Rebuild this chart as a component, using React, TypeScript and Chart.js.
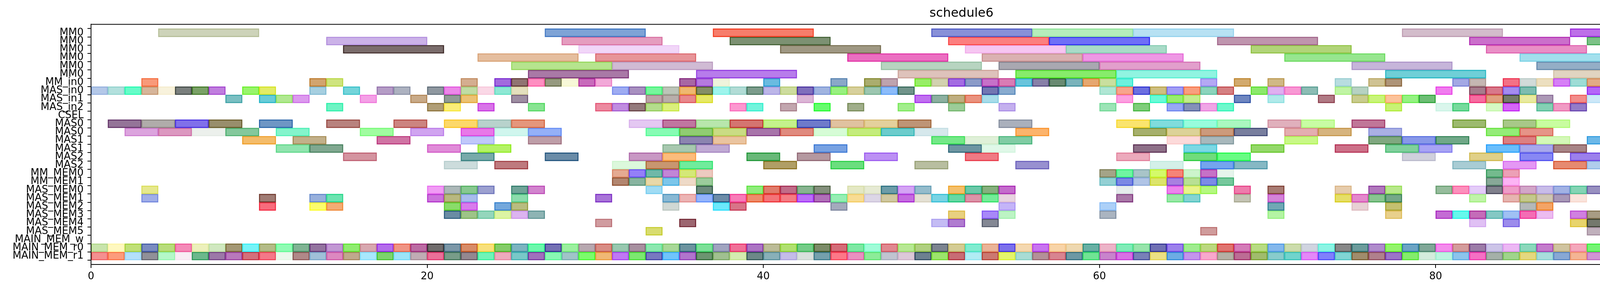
import React, { useEffect, useRef } from "react";
import { Chart, registerables } from "chart.js";

Chart.register(...registerables);

const TITLE = "schedule6";
const ROW_LABELS = [
  "MM0", "MM0", "MM0", "MM0", "MM0", "MM0", "MM_in0", "MAS_in0", "MAS_in1", "MAS_in2",
  "CSEL", "MAS0", "MAS0", "MAS1", "MAS1", "MAS2", "MAS2", "MM_MEM0", "MM_MEM1", "MAS_MEM0",
  "MAS_MEM1", "MAS_MEM2", "MAS_MEM3", "MAS_MEM4", "MAS_MEM5", "MAIN_MEM_w", "MAIN_MEM_r0", "MAIN_MEM_r1",
];
// task duration of each row
const ROW_DURATION = [6, 6, 6, 6, 6, 6, 1, 1, 1, 1, 1, 2, 2, 2, 2, 2, 2, 1, 1, 1, 1, 1, 1, 1, 1, 1, 1, 1];
const X_TICKS = [0, 20, 40, 60, 80, 100];
const X_MAX = 109;

// task start times per row
const MM0_0 = [4, 27, 37, 50, 56, 62, 78, 88, 95];
const MM0_1 = [14, 28, 38, 51, 57, 67, 82, 89, 98];
const MM0_2 = [15, 29, 41, 52, 58, 69, 83, 90, 103];
const MM0_3 = [23, 30, 45, 53, 59, 71, 85, 91];
const MM0_4 = [25, 31, 47, 54, 60, 75, 86, 92];
const MM0_5 = [26, 36, 48, 55, 61, 77, 87, 93];
const MM_IN0 = [3, 13, 14, 22, 24, 25, 26, 27, 28, 29, 30, 35, 36, 37, 40, 44, 46, 47, 49, 50, 51, 52, 53, 54, 55, 56, 57, 58, 59, 60, 61, 66, 68, 70, 74, 76, 77, 81, 82, 84, 85, 86, 87, 88, 89, 90, 91, 92, 94, 97, 102];
const MAS_IN0 = [0, 1, 2, 3, 4, 5, 6, 7, 9, 10, 13, 15, 17, 18, 20, 21, 22, 23, 24, 25, 31, 32, 33, 34, 35, 36, 37, 38, 39, 40, 41, 42, 43, 44, 45, 46, 47, 48, 53, 54, 60, 61, 62, 63, 64, 65, 66, 67, 69, 70, 71, 72, 74, 75, 80, 82, 83, 84, 85, 89, 90, 91, 93, 94, 95, 96, 97, 98, 100, 101];
const MAS_IN1 = [8, 10, 11, 12, 16, 19, 21, 22, 25, 33, 34, 35, 36, 42, 49, 50, 51, 52, 53, 61, 63, 64, 65, 68, 70, 73, 75, 76, 77, 78, 79, 82, 83, 84, 85, 86, 88, 89, 90, 93, 94, 95, 96, 98];
const MAS_IN2 = [14, 20, 21, 23, 26, 30, 31, 32, 33, 34, 38, 39, 41, 43, 45, 48, 51, 54, 60, 62, 64, 65, 66, 67, 77, 80, 81, 83, 84, 86, 87, 88, 90, 92, 95, 96, 97, 98, 99];
const CSEL: number[] = [];
const MAS0_A = [1, 3, 5, 7, 10, 14, 18, 21, 23, 25, 32, 34, 36, 38, 40, 42, 44, 46, 48, 54, 61, 63, 65, 67, 70, 72, 75, 81, 84, 86, 91, 94, 96, 98, 101];
const MAS0_B = [2, 4, 6, 8, 11, 16, 19, 22, 24, 26, 33, 35, 37, 39, 41, 43, 45, 47, 49, 55, 62, 64, 66, 68, 71, 73, 76, 83, 85, 90, 92, 95, 97, 99, 102];
const MAS1_A = [9, 12, 17, 22, 26, 35, 37, 50, 52, 54, 64, 66, 71, 76, 78, 80, 84, 86, 89, 91, 95, 97];
const MAS1_B = [11, 13, 20, 23, 34, 36, 43, 51, 53, 62, 65, 69, 74, 77, 79, 83, 85, 87, 90, 94, 96, 99];
const MAS2_A = [15, 22, 27, 32, 34, 39, 42, 46, 52, 61, 65, 67, 78, 82, 85, 88, 91, 96, 98, 100];
const MAS2_B = [21, 24, 31, 33, 35, 40, 44, 49, 55, 63, 66, 68, 81, 84, 87, 89, 93, 97, 99];
const MM_MEM0 = [31, 32, 33, 34, 35, 36, 60, 61, 62, 63, 64, 65, 66, 67, 83, 84, 95, 96];
const MM_MEM1 = [31, 32, 33, 34, 35, 36, 60, 61, 62, 63, 64, 65, 66, 67, 83, 84, 95, 96];
const MAS_MEM0 = [3, 20, 21, 22, 23, 25, 26, 33, 36, 39, 40, 41, 42, 43, 45, 46, 47, 48, 49, 51, 52, 53, 54, 61, 64, 65, 66, 68, 70, 74, 76, 77, 80, 81, 82, 83, 84, 85, 86, 87, 88, 89, 90, 95, 96, 97];
const MAS_MEM1 = [3, 10, 13, 14, 20, 21, 22, 25, 30, 34, 35, 36, 37, 38, 39, 40, 41, 42, 43, 44, 45, 46, 47, 48, 49, 50, 51, 52, 53, 54, 61, 64, 65, 68, 70, 74, 75, 76, 77, 82, 84, 85, 86, 87, 88, 90, 93, 94, 95, 96, 97, 98, 99, 100, 101, 102];
const MAS_MEM2 = [10, 13, 14, 21, 22, 24, 25, 34, 37, 38, 44, 54, 60, 70, 75, 77, 85, 86, 90, 92, 93, 94, 98, 102];
const MAS_MEM3 = [21, 22, 23, 24, 25, 26, 51, 53, 54, 60, 70, 77, 80, 81, 82, 83, 84, 85, 86, 88, 89, 90, 91, 92, 96, 97, 98];
const MAS_MEM4 = [30, 35, 50, 51, 53, 82, 84, 88, 89, 90, 91, 94, 97, 98];
const MAS_MEM5 = [33, 66, 89, 90, 94, 97, 98];
const MAIN_MEM_W: number[] = [];
const MAIN_MEM_R0 = [0, 1, 2, 3, 4, 5, 6, 7, 8, 9, 10, 11, 12, 13, 14, 15, 16, 17, 18, 19, 20, 21, 22, 23, 24, 25, 26, 27, 28, 29, 30, 31, 32, 33, 34, 35, 36, 37, 38, 39, 40, 41, 42, 43, 44, 45, 46, 47, 48, 49, 50, 51, 52, 53, 54, 55, 56, 57, 58, 59, 60, 61, 62, 63, 64, 65, 66, 67, 68, 69, 70, 71, 72, 73, 74, 75, 76, 77, 78, 79, 80, 81, 82, 83, 84, 85, 86, 87, 88, 89, 90, 91, 92, 93, 94, 95, 96, 97, 98, 99, 100, 101];
const MAIN_MEM_R1 = [0, 1, 2, 3, 4, 5, 6, 7, 8, 9, 10, 11, 12, 13, 14, 15, 16, 17, 18, 19, 20, 21, 22, 23, 24, 25, 26, 27, 28, 29, 30, 31, 32, 33, 34, 35, 36, 37, 38, 39, 40, 41, 42, 43, 44, 45, 46, 47, 48, 49, 50, 51, 52, 53, 54, 55, 56, 57, 58, 59, 60, 61, 62, 63, 64, 65, 66, 67, 68, 69, 70, 71, 72, 73, 74, 75, 76, 77, 78, 79, 80, 81, 82, 83, 84, 85, 86, 87, 88, 89, 90, 91, 92, 93, 94, 95];

const ROW_STARTS = [
  MM0_0, MM0_1, MM0_2, MM0_3, MM0_4, MM0_5, MM_IN0, MAS_IN0, MAS_IN1, MAS_IN2,
  CSEL, MAS0_A, MAS0_B, MAS1_A, MAS1_B, MAS2_A, MAS2_B, MM_MEM0, MM_MEM1, MAS_MEM0,
  MAS_MEM1, MAS_MEM2, MAS_MEM3, MAS_MEM4, MAS_MEM5, MAIN_MEM_W, MAIN_MEM_R0, MAIN_MEM_R1,
];

// apparent colour of each task (same order as starts)
const C_MM0_0 = ["#cdd3b9", "#7ea3d6", "#f77d6b", "#8890d8", "#b5edbb", "#b7e1f3", "#d3bccb", "#bd6fe8", "#b0a5bb"];
const C_MM0_1 = ["#cbb2e8", "#e59dbf", "#7c9172", "#fc7f7f", "#6f6ff7", "#bf95ae", "#cb6fcb", "#7cc287", "#fdbb7d"];
const C_MM0_2 = ["#7a6c6b", "#f1d6f8", "#9f9883", "#f6c6f1", "#a9dbc8", "#b1d479", "#e98fc6", "#e46f8b", "#d4da72"];
const C_MM0_3 = ["#e5be9f", "#e79599", "#eb6fc1", "#dab1b1", "#ee98e4", "#97e68f", "#a3e0ed", "#8a756b"];
const C_MM0_4 = ["#b6e48e", "#d0bbd4", "#b7d4c0", "#a9a8b1", "#e29fcc", "#c6b5da", "#94aec6", "#eca89d"];
const C_MM0_5 = ["#a979a6", "#b77ceb", "#dec2bb", "#87ec6b", "#90f4e1", "#6fcfd7", "#e1d4c1", "#b5f4ee"];
const C_MM_IN0 = ["#f89a7a", "#d2a46e", "#cfe47f", "#d4ae90", "#a26bde", "#907472", "#fe8fc1", "#969a80", "#f7f8d8", "#c86bbb", "#f2a8d8", "#a867a3", "#b57ade", "#eef4dc", "#6abbe0", "#8aa8c8", "#aaad6e", "#bea3ae", "#98ee62", "#d2d1b0", "#a36ce2", "#8b9bc8", "#c671c8", "#d97cb4", "#68c4dc", "#8880a8", "#698a72", "#7ab3bb", "#e6a770", "#c9df9f", "#6cf0de", "#b4a8f4", "#d2aa6e", "#d0b886", "#b8dde0", "#cfc293", "#ae9478", "#a3a8e4", "#c5b6b2", "#f37186", "#d1dbd9", "#ecdfc0", "#d67ff6", "#9edcd6", "#e2ab85", "#a4ecf6", "#88a18a", "#ecb5d5", "#fb9a88", "#a98d8c", "#aeaed4"];
const C_MAS_IN0 = ["#b4c8e8", "#b3e0dd", "#66fcc8", "#d6b59a", "#f8f2dc", "#7a7f7d", "#7aa167", "#c07ede", "#98f46c", "#e2ec66", "#a6cfe0", "#74d4da", "#b59dc6", "#adb2c0", "#8f98a0", "#ec88e8", "#c0dca4", "#fad8e6", "#8ee8d4", "#e4e0be", "#9eacf2", "#a890c0", "#76f69c", "#bcc4b8", "#efb870", "#848e66", "#9ef4ec", "#b2dcd6", "#7c9c8c", "#bcb6e8", "#cddc9e", "#7f6fbc", "#a0b4e0", "#98f080", "#d7d09c", "#9cc6b0", "#8cbcfa", "#71948a", "#7276b2", "#88abcf", "#b0e6d4", "#f8a48c", "#6c70e0", "#cebf80", "#a29ef4", "#f99e7e", "#8cd4bc", "#d58082", "#8ce86c", "#dfb0f0", "#f898d4", "#8cbcb4", "#c0f4a4", "#b6d2c2", "#f07cee", "#a67c8c", "#d8788a", "#a48cf0", "#7cbcb0", "#b464f8", "#daf6b8", "#b09c8a", "#d4ead6", "#88d06c", "#f4ebe4", "#e8a470", "#acf6c4", "#8c6ef4", "#a676f8", "#dd7ec6"];
const C_MAS_IN1 = ["#7abfc2", "#68ccd8", "#b0e890", "#dc9aee", "#f4a0e6", "#c8aa88", "#919c96", "#ecc274", "#9e8ea2", "#bca4a8", "#b8aeaa", "#e8888c", "#e6e862", "#dcb6d6", "#c070f0", "#8cb0a0", "#beae80", "#ea927e", "#a8dcea", "#fca0e0", "#6afad6", "#98ee6e", "#c4ec8e", "#6e86c0", "#b0eaea", "#b07a84", "#c8cc8e", "#c8f47a", "#fcc29a", "#94f282", "#6cbe74", "#f66ca0", "#e0a080", "#747a6a", "#e8eaa0", "#ac98b6", "#f28c8a", "#cce8f8", "#ae9e7e", "#a0e0d8", "#7a6a84", "#bebcf4", "#98ec7c", "#6e80bc"];
const C_MAS_IN2 = ["#6ef4c4", "#b09e76", "#faee78", "#d874e8", "#88e492", "#ec8aa0", "#c08ce0", "#947a7c", "#b4dc8c", "#daf07c", "#fc98d0", "#72f4dc", "#c2a6ae", "#66fc6e", "#a0ae8a", "#a2ee8c", "#9ccc98", "#c4b0ee", "#9ce4b6", "#7ecd7a", "#98a8f4", "#8490b8", "#f0a6e6", "#6ef8cc", "#c8f274", "#daf6ec", "#76da9c", "#d6fac4", "#d666f8", "#84d0b4", "#f09ac4", "#947cc8", "#cee8da", "#6a6ecc", "#b4dae6", "#7c84a4", "#c0e4d8", "#d27268", "#d4e6c2"];
const C_CSEL: string[] = [];
const C_MAS0_A = ["#947498", "#b0acaa", "#8070ea", "#988e6c", "#6e96c4", "#b8827e", "#cc8480", "#fcd86a", "#b8d2cc", "#e4967c", "#e4c8f2", "#c076a0", "#b8e6ac", "#d47470", "#c4f28c", "#6e7aca", "#e0c2a0", "#e4d09c", "#be9476", "#aab0bc", "#fae46e", "#80dcdc", "#98fcdc", "#aaf8c0", "#e0b0bc", "#c8fca4", "#c07698", "#9cba6e", "#a8c888", "#c8fca0", "#8a8478", "#f4846c", "#b4e6c8", "#c4d4f8", "#7c9a6c"];
const C_MAS0_B = ["#dca4de", "#dc98c0", "#ecf0ec", "#84c89c", "#84f4cc", "#a0fca0", "#d0a4f0", "#e878e8", "#d0f6ee", "#94b0f8", "#86fcb4", "#90cc72", "#cadc84", "#a874aa", "#e08a7e", "#d6fcd6", "#c4ec7c", "#6ccccc", "#d6e8ec", "#fcb46c", "#a6b06c", "#dcd298", "#cc9a7c", "#787e9e", "#e4aeb0", "#d6b47e", "#aab0e4", "#94ec78", "#e69488", "#a8d8c4", "#6e8c72", "#80ceb4", "#e08c8c", "#f4b488", "#aac0b2"];
const C_MAS1_A = ["#f4bc6a", "#c2b08a", "#d074a4", "#c0c8fa", "#be9ea8", "#8c84b0", "#eac4a0", "#74e888", "#dff0d8", "#80cca4", "#fcdada", "#a8b8bc", "#c8f886", "#80a880", "#8898e8", "#70a888", "#dc8082", "#d4f8b8", "#6cb8e8", "#a8eaa8", "#c89478", "#84b4c6"];
const C_MAS1_B = ["#90e4ae", "#80a890", "#e08cd8", "#b4f266", "#a8c8b0", "#c0aad4", "#78a2e2", "#6e96a2", "#e0f8e8", "#8e7088", "#7cd8e4", "#94d86a", "#cc7088", "#80d09c", "#a8a4f4", "#6abefc", "#a8a8ec", "#a88486", "#c484ee", "#98fc9c", "#c474cc", "#78fcaa"];
const C_MAS2_A = ["#d494a0", "#78aaaa", "#6a8ca8", "#c898c4", "#fcbc7c", "#68b878", "#b498a0", "#bc90f4", "#f07a84", "#ecaabc", "#70dc7c", "#68fc84", "#d0d0dc", "#e0d088", "#8888f4", "#9c80ec", "#ccd06a", "#f688a6", "#9a8c98", "#74e47c"];
const C_MAS2_B = ["#ccdcdc", "#be7a7e", "#dcf8dc", "#c89670", "#70ec9c", "#b09e60", "#6ade7e", "#b8bea0", "#9890d0", "#d4f0e8", "#74a4ee", "#86b8c4", "#a8ccd4", "#e498f4", "#e68a70", "#b0cdec", "#d0a0f0", "#98b0c8", "#c0a4ea"];
const C_MM_MEM0 = ["#e4aa92", "#9480f8", "#70b8a8", "#c286d6", "#d4e878", "#eccac0", "#a4a488", "#70f4a2", "#a8c4c8", "#d4fa6a", "#f68478", "#ccf4cc", "#c672c6", "#e6f4ec", "#74ba8e", "#eca0b6", "#fcd8ee", "#e6e48c"];
const C_MM_MEM1 = ["#b28670", "#88b4a0", "#e8d8a8", "#7cc6ea", "#eedac8", "#9ccc9c", "#94d0d4", "#7c88e4", "#b0c4e6", "#dce46c", "#a880e0", "#b8e094", "#7c8ce6", "#76c89c", "#88a898", "#fcb4f4", "#f2b474", "#6c8a6c"];
const C_MAS_MEM0 = ["#e6e88e", "#f09cf4", "#acb8b8", "#88c890", "#9ca0d0", "#70a498", "#d284ce", "#a0dcf4", "#6c8a7c", "#90ec7c", "#e07c6c", "#c06c88", "#88b490", "#84907c", "#e4e8c4", "#e6ead4", "#6c9ca8", "#d4a4f4", "#94bccc", "#f4c06c", "#6cc8a8", "#86b07e", "#c46ccc", "#e6ecec", "#ec84ec", "#e8f48c", "#b4f880", "#ee7cac", "#a87c74", "#e6ccac", "#b078bc", "#b8e88c", "#96bc9c", "#fc90bc", "#e4ccf8", "#80808c", "#ee9cc8", "#d2a6c8", "#c8bce8", "#a2b2e4", "#84d4b4", "#9890c0", "#b08cb8", "#b8f098", "#c4c47a", "#a8d07c"];
const C_MAS_MEM1 = ["#a0aee8", "#a07c74", "#98b0dc", "#6ce4b0", "#cc74dc", "#b8b880", "#a8bcec", "#8cdcac", "#a874d8", "#88b8d4", "#ecb4b4", "#94b4fc", "#6c8ca8", "#f87cb8", "#ee8c6c", "#f47478", "#f47c84", "#bc6ef8", "#b070b8", "#96eeb4", "#f8dc94", "#dcd6e6", "#d0c8a0", "#c46ce0", "#e4e0d4", "#78d4e4", "#68d8a4", "#dc94a8", "#74ec98", "#e8d4e0", "#aa78a8", "#9ae8a8", "#84d4d2", "#c4c4b4", "#d484d8", "#e6de68", "#e488cc", "#88c490", "#74a888", "#c0f4a8", "#e6b4b0", "#c4c88c", "#cfc6b4", "#a898b8", "#fae4dc", "#fee8e4", "#a8ecf8", "#ec7884", "#c8e2f4", "#66d8ee", "#7c9494", "#6ce8c4", "#88f4e0", "#f4d470", "#8c6c74", "#66b09c"];
const C_MAS_MEM2 = ["#f86c7c", "#fcfc6c", "#f4ac74", "#8adc6a", "#d87cec", "#74a8dc", "#b8bc80", "#d0d8d4", "#6ce8fc", "#d87488", "#a4aabc", "#c4b4f8", "#acd0f8", "#70a8b4", "#e8d0d4", "#c4c070", "#b4b8b8", "#f4a464", "#a8b0a4", "#9a8ae8", "#e0acec", "#78f070", "#c486be", "#e8c880"];
const C_MAS_MEM3 = ["#6a8ca4", "#9ec488", "#94d6bc", "#dcf4a4", "#dcb4f0", "#8eb4b4", "#e8d080", "#a888f8", "#bcf4c4", "#aab4c0", "#b4f4a4", "#e8d08c", "#c46cd4", "#66f8ec", "#c46cb8", "#84c8c4", "#a0c0f4", "#f46cb4", "#ecbcf0", "#d080e0", "#a89c84", "#ec6ca4", "#e47ce4", "#7c80cc", "#88d4c8", "#8070a8", "#dca4ec"];
const C_MAS_MEM4 = ["#d09ca0", "#9c6670", "#c4bcf4", "#b07cd0", "#848894", "#e0c0f4", "#9c8cec", "#e8d46c", "#74786c", "#9494f4", "#8c7c94", "#cc9684", "#acc0f8", "#7ccc80"];
const C_MAS_MEM5 = ["#d8dc70", "#d09c9c", "#c0b0bc", "#fc74b4", "#a888a4", "#dcb6b0", "#a088f0"];
const C_MAIN_MEM_W: string[] = [];
const C_MAIN_MEM_R0 = ["#c8e4ac", "#fef8c0", "#c0e078", "#7a8cc0", "#b8dc7c", "#f48ab8", "#ecf0bc", "#d0e8c0", "#a49874", "#76f4f8", "#b4bc88", "#90fcb4", "#80b494", "#9474a0", "#c298d4", "#90ec70", "#d8a8b0", "#b46cec", "#f09484", "#bc6ca4", "#706c6c", "#7c98a8", "#d88c68", "#f8e07c", "#84cc68", "#7cb4c0", "#6cf8ac", "#7470b4", "#9cf0a0", "#b8a8b0", "#d88c84", "#98c8b0", "#a890a0", "#8ce8b0", "#a8d898", "#6c94a0", "#7ce098", "#a0a4c0", "#f07098", "#ac74c4", "#bcbc98", "#b0e070", "#74cc88", "#7c8c68", "#d46c78", "#7ee8a4", "#a0fcd8", "#e08890", "#b8e894", "#b0d080", "#7c8490", "#d4cc94", "#80ecd0", "#eab498", "#7c70ec", "#f4d8b0", "#c874f0", "#f8d4a8", "#eed8b0", "#68b0a4", "#ecb4c8", "#80ecb8", "#98e4ac", "#7070b4", "#9c80ec", "#a0ec90", "#bcd880", "#e07470", "#d47cb8", "#b8dc84", "#84b8ec", "#ccdcac", "#d0d4e0", "#8cf4e4", "#888888", "#6c9c9c", "#b08ccc", "#94f46c", "#6ca4c4", "#80a898", "#f48cec", "#d49c9c", "#9c7ca8", "#ccc4e8", "#ecb8f4", "#8cd8bc", "#c47ccc", "#d0c4a0", "#f4a8bc", "#74f474", "#74c87c", "#b0cc94", "#a8d8d4", "#7888f0", "#8ea8c4", "#c49c68", "#c0bcc4", "#88b4c4", "#eec4ac", "#cc7c90", "#b8b46c", "#c4fc6c"];
const C_MAIN_MEM_R1 = ["#f49090", "#fc9c7c", "#b4e0fa", "#909098", "#b4f8c8", "#f8ecf4", "#6cb88c", "#9c78a8", "#b878bc", "#d4707c", "#f47888", "#ecf8ec", "#b08888", "#a0c0d8", "#dc88c0", "#c0a88c", "#a8e8fc", "#7cd46c", "#9ce4f8", "#c0acb4", "#ea7098", "#789c88", "#948890", "#70f4b8", "#eeaabc", "#78c8c8", "#a070bc", "#88f8b4", "#a0c4c8", "#7cfc6c", "#f0b874", "#c078f4", "#7ce870", "#7878c0", "#70c4fc", "#b074cc", "#6c9470", "#a0c090", "#d4ecb0", "#6c8888", "#88b0b8", "#c4bce8", "#d8e0dc", "#74a0ac", "#fc7888", "#e890c0", "#8cec98", "#c0c4d0", "#dcc8d8", "#6c8090", "#9ce46c", "#c86c74", "#b0ecf4", "#cc7870", "#e4f46c", "#a8dcd4", "#b49098", "#d88490", "#6c98a4", "#70e494", "#c884cc", "#d870e4", "#7880b8", "#ece084", "#6cace4", "#c494ec", "#f8a8cc", "#b4b0a4", "#bc6c94", "#a0bc6c", "#88cccc", "#70d4cc", "#e488f8", "#8080fc", "#80d4d4", "#a08c6c", "#b0808c", "#9c74c8", "#84ec6c", "#d4ecdc", "#bcf4e0", "#8cc4ec", "#f470c4", "#a4b0a8", "#a0d48c", "#e4d880", "#a8dcdc", "#88a8d4", "#f4b494", "#d094d4", "#e8ecdc", "#ac9cb4", "#d4dc70", "#6ca8a8", "#98dc9c", "#f47cf4"];

const ROW_COLORS = [
  C_MM0_0, C_MM0_1, C_MM0_2, C_MM0_3, C_MM0_4, C_MM0_5, C_MM_IN0, C_MAS_IN0, C_MAS_IN1, C_MAS_IN2,
  C_CSEL, C_MAS0_A, C_MAS0_B, C_MAS1_A, C_MAS1_B, C_MAS2_A, C_MAS2_B, C_MM_MEM0, C_MM_MEM1, C_MAS_MEM0,
  C_MAS_MEM1, C_MAS_MEM2, C_MAS_MEM3, C_MAS_MEM4, C_MAS_MEM5, C_MAIN_MEM_W, C_MAIN_MEM_R0, C_MAIN_MEM_R1,
];

const FILL_ALPHA = 0.6;
const EDGE_ALPHA = 0.85;
const FONT = "DejaVu Sans";

function baseRgb(hex: string): number[] {
  const n = parseInt(hex.slice(1), 16);
  const ch = [(n >> 16) & 255, (n >> 8) & 255, n & 255];
  return ch.map((c) => Math.max(0, Math.min(255, Math.round((c - 255 * (1 - FILL_ALPHA)) / FILL_ALPHA))));
}
function rgba(hex: string, a: number): string {
  const [r, g, b] = baseRgb(hex);
  return `rgba(${r},${g},${b},${a})`;
}

const framePlugin = {
  id: "frame",
  afterDatasetsDraw(chart: any) {
    const { ctx, chartArea } = chart;
    ctx.save();
    ctx.strokeStyle = "#000";
    ctx.lineWidth = 2;
    ctx.strokeRect(chartArea.left, chartArea.top, chartArea.right - chartArea.left, chartArea.bottom - chartArea.top);
    ctx.restore();
  },
};

export default function App() {
  const ref = useRef<HTMLCanvasElement | null>(null);

  useEffect(() => {
    if (!ref.current) return;
    const datasets: any[] = [];
    ROW_STARTS.forEach((starts, row) => {
      if (!starts.length) return;
      const cols = ROW_COLORS[row];
      datasets.push({
        label: ROW_LABELS[row],
        data: starts.map((s) => ({ x: [s, s + ROW_DURATION[row]], y: row })),
        backgroundColor: starts.map((_, i) => rgba(cols[i] || "#cccccc", FILL_ALPHA)),
        borderColor: starts.map((_, i) => rgba(cols[i] || "#cccccc", EDGE_ALPHA)),
        borderWidth: 2,
        borderSkipped: false,
        grouped: false,
        barPercentage: 1,
        categoryPercentage: 1,
      });
    });

    const tickFont = { family: FONT, size: 26 };
    const chart = new Chart(ref.current, {
      type: "bar",
      data: { datasets },
      options: {
        indexAxis: "y",
        animation: false,
        responsive: false,
        devicePixelRatio: 1,
        events: [],
        layout: { padding: { left: 0, right: 19, top: 0, bottom: 0 } },
        plugins: {
          legend: { display: false },
          tooltip: { enabled: false },
          title: {
            display: true,
            text: TITLE,
            color: "#000",
            font: { family: FONT, size: 32, weight: "normal", lineHeight: 1.2 },
            padding: { top: 15, bottom: 9 },
          },
        },
        scales: {
          x: {
            type: "linear",
            position: "bottom",
            min: 0,
            max: X_MAX,
            afterBuildTicks: (s: any) => {
              s.ticks = X_TICKS.map((v) => ({ value: v }));
            },
            afterFit: (s: any) => {
              s.height = 68;
            },
            ticks: { color: "#000", font: tickFont, padding: 7, maxRotation: 0, autoSkip: false },
            grid: { drawOnChartArea: false, drawTicks: true, tickLength: 9, color: "#000", lineWidth: 2 },
            border: { display: true, color: "#000", width: 2 },
          },
          y: {
            type: "linear",
            position: "left",
            min: -0.5,
            max: ROW_LABELS.length - 0.5,
            reverse: true,
            afterBuildTicks: (s: any) => {
              s.ticks = ROW_LABELS.map((_, i) => ({ value: i }));
            },
            afterFit: (s: any) => {
              s.width = 233;
            },
            ticks: {
              color: "#000",
              font: tickFont,
              padding: 10,
              autoSkip: false,
              callback: (v: any) => ROW_LABELS[v] ?? "",
            },
            grid: { drawOnChartArea: false, drawTicks: true, tickLength: 9, color: "#000", lineWidth: 2 },
            border: { display: true, color: "#000", width: 2 },
          },
        },
      } as any,
      plugins: [framePlugin],
    });
    return () => chart.destroy();
  }, []);

  return (
    <div style={{ position: "absolute", left: 0, top: 0, width: 4942, height: 746, background: "#fff" }}>
      <canvas ref={ref} width={4942} height={746} style={{ display: "block", width: 4942, height: 746 }} />
    </div>
  );
}
